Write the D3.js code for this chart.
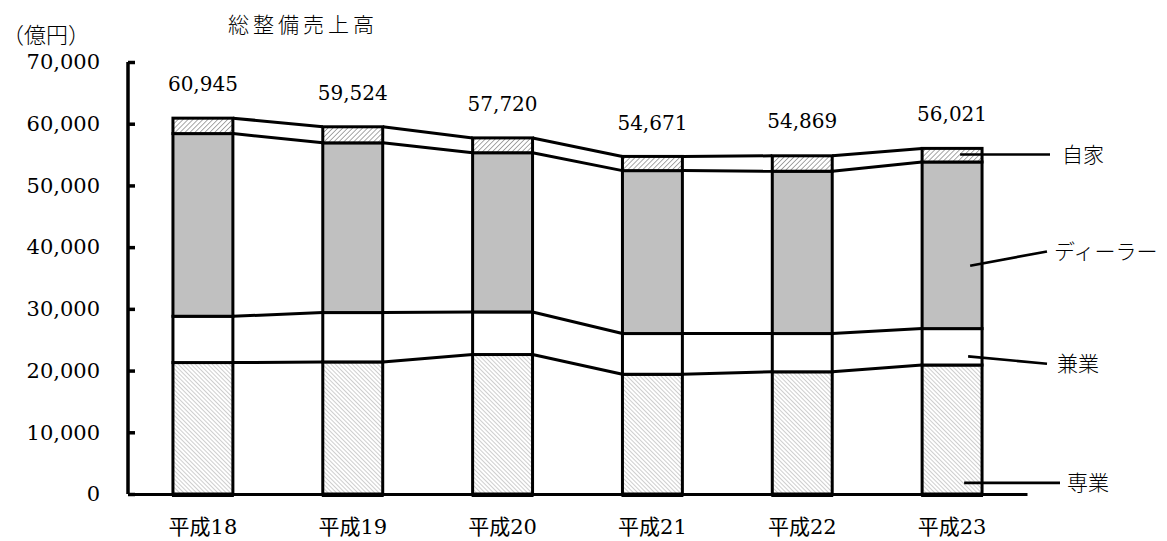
<!DOCTYPE html>
<html>
<head>
<meta charset="utf-8">
<script src="https://cdn.jsdelivr.net/npm/d3@7"></script>
<style>
  html, body { margin: 0; padding: 0; background: #fff; }
  svg { display: block; }
  text { font-family: "DejaVu Serif", "Noto Sans CJK JP", sans-serif; fill: #000; }
  .jp { font-family: "Noto Sans CJK JP", sans-serif; font-weight: 300; }
</style>
</head>
<body>
<div id="chart"></div>
<script>
  // ---------- DATA ----------
  const years = ["平成18", "平成19", "平成20", "平成21", "平成22", "平成23"];
  const seriesNames = ["専業", "兼業", "ディーラー", "自家"];
  const senGyo = [21300, 21400, 22600, 19400, 19800, 20900];
  const kenGyo = [7500, 8000, 6900, 6600, 6200, 5900];
  const dealer = [29600, 27500, 25800, 26400, 26300, 27000];
  const jika = [2500, 2600, 2400, 2300, 2500, 2200];
  const totals = [60945, 59524, 57720, 54671, 54869, 56021];
  const yTicks = [0, 10000, 20000, 30000, 40000, 50000, 60000, 70000];

  // ---------- LAYOUT ----------
  const W = 1167, H = 541;
  const svg = d3.select("#chart").append("svg").attr("width", W).attr("height", H);

  const defs = svg.append("defs");
  // 専業: fine light hatch
  const p1 = defs.append("pattern")
    .attr("id", "hatch-sen").attr("patternUnits", "userSpaceOnUse")
    .attr("width", 3).attr("height", 3)
    .attr("patternTransform", "rotate(-45)");
  p1.append("rect").attr("width", 3).attr("height", 3).attr("fill", "#fff");
  p1.append("line").attr("x1", 0).attr("y1", 0).attr("x2", 0).attr("y2", 3)
    .attr("stroke", "#b4b4b4").attr("stroke-width", 1.3);
  // 自家: darker diagonal hatch
  const p2 = defs.append("pattern")
    .attr("id", "hatch-jika").attr("patternUnits", "userSpaceOnUse")
    .attr("width", 3.5).attr("height", 3.5)
    .attr("patternTransform", "rotate(45)");
  p2.append("rect").attr("width", 3.5).attr("height", 3.5).attr("fill", "#fff");
  p2.append("line").attr("x1", 0).attr("y1", 0).attr("x2", 0).attr("y2", 3.5)
    .attr("stroke", "#8a8a8a").attr("stroke-width", 1.5);

  const fills = ["url(#hatch-sen)", "#fff", "#c0c0c0", "url(#hatch-jika)"];

  const x = d3.scaleBand().domain(years).range([128, 1027])
    .paddingInner(0.6).paddingOuter(0.3);
  const y = d3.scaleLinear().domain([0, 70000]).range([494, 62]);

  const rows = years.map((yr, i) => ({
    year: yr, "専業": senGyo[i], "兼業": kenGyo[i], "ディーラー": dealer[i], "自家": jika[i]
  }));
  const stacked = d3.stack().keys(seriesNames)(rows);

  // ---------- SERIES LINES ----------
  const bw = x.bandwidth();
  const lineG = svg.append("g");
  stacked.forEach((layer) => {
    for (let i = 0; i < years.length - 1; i++) {
      lineG.append("line")
        .attr("x1", x(years[i]) + bw).attr("y1", y(layer[i][1]))
        .attr("x2", x(years[i + 1])).attr("y2", y(layer[i + 1][1]))
        .attr("stroke", "#000").attr("stroke-width", 3);
    }
  });

  // ---------- BARS ----------
  svg.append("g").selectAll("g")
    .data(stacked)
    .join("g")
    .attr("fill", (d, i) => fills[i])
    .selectAll("rect")
    .data((d) => d)
    .join("rect")
    .attr("x", (d) => x(d.data.year))
    .attr("y", (d) => y(d[1]))
    .attr("width", bw)
    .attr("height", (d) => y(d[0]) - y(d[1]))
    .attr("stroke", "#000")
    .attr("stroke-width", 3);

  // ---------- AXES ----------
  const yAxis = svg.append("g")
    .attr("transform", "translate(128,0)")
    .call(d3.axisLeft(y).tickValues(yTicks).tickSize(-7).tickPadding(28)
      .tickFormat(d3.format(",")));
  yAxis.select(".domain").attr("stroke-width", 3.5)
    .attr("d", `M0,${y(70000)}V${y(0)}`);
  yAxis.selectAll(".tick line").attr("stroke-width", 3.5);
  yAxis.selectAll("text").style("font-size", "21px");

  const xAxis = svg.append("g")
    .attr("transform", `translate(0,${y(0)})`)
    .call(d3.axisBottom(x).tickSize(0).tickPadding(25));
  xAxis.select(".domain").attr("stroke-width", 3);
  xAxis.selectAll("text").style("font-size", "21px");

  // thick base under bars
  svg.append("g").selectAll("line")
    .data(years).join("line")
    .attr("x1", (d) => x(d) - 1).attr("x2", (d) => x(d) + bw + 1)
    .attr("y1", y(0) + 1.5).attr("y2", y(0) + 1.5)
    .attr("stroke", "#000").attr("stroke-width", 3);

  // ---------- TOTAL LABELS ----------
  svg.append("g").selectAll("text")
    .data(totals).join("text")
    .attr("x", (d, i) => x(years[i]) + bw / 2)
    .attr("y", (d) => y(d) - 27)
    .attr("text-anchor", "middle")
    .style("font-size", "20px")
    .text((d) => d3.format(",")(d));

  // ---------- TITLES ----------
  svg.append("text").attr("class", "jp")
    .attr("x", 228).attr("y", 32)
    .style("font-size", "21px").style("letter-spacing", "4px")
    .text("総整備売上高");
  svg.append("text").attr("class", "jp")
    .attr("x", 2).attr("y", 43)
    .style("font-size", "22px")
    .text("（億円）");

  // ---------- LEADER LABELS (last bar) ----------
  const last = years[years.length - 1];
  const lx = x(last);
  const leaders = [
    { name: "自家", v0: 55000, v1: 55000, dx0: 38, x1: 1050, tx: 1062 },
    { name: "ディーラー", v0: 37000, v1: 39300, dx0: 48, x1: 1047, tx: 1054 },
    { name: "兼業", v0: 22300, v1: 21100, dx0: 46, x1: 1047, tx: 1057 },
    { name: "専業", v0: 1800, v1: 1800, dx0: 42, x1: 1060, tx: 1067 },
  ];
  const lg = svg.append("g");
  leaders.forEach((d) => {
    lg.append("line")
      .attr("x1", lx + d.dx0).attr("y1", y(d.v0))
      .attr("x2", d.x1).attr("y2", y(d.v1))
      .attr("stroke", "#000").attr("stroke-width", 2.6);
    lg.append("text").attr("class", "jp")
      .attr("x", d.tx).attr("y", y(d.v1))
      .attr("dy", "0.36em")
      .style("font-size", "21px")
      .text(d.name);
  });
</script>
</body>
</html>
